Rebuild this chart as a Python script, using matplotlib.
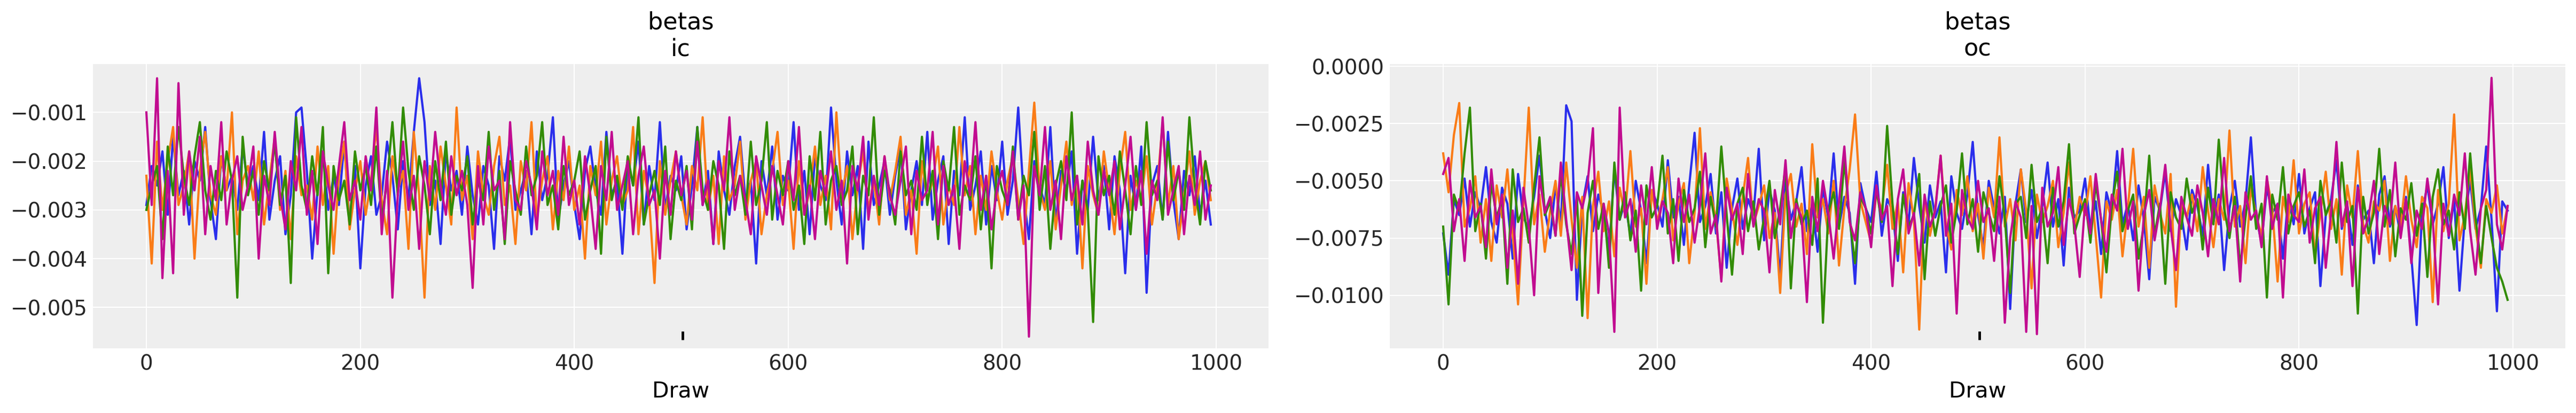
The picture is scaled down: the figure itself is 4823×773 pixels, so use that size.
import numpy as np
import matplotlib
matplotlib.use("Agg")
import matplotlib.pyplot as plt

# chain colours (arviz-darkgrid cycle)
chain_colors = ["#2a2eec", "#fa7c17", "#328c06", "#c10c90"]

# every 5th draw, values in units of 1e-4
draw_step = 5
divergence_draws = [501]

ic_chain0 = [
    -29, -21, -25, -18, -31, -15, -27, -22, -33, -20, -24, -13, -28, -36, -19, -26, -23, -30, -17, -25,
    -21, -28, -14, -32, -24, -19, -35, -27, -10, -9, -22, -40, -26, -18, -30, -23, -29, -16, -33, -21,
    -42, -25, -19, -31, -27, -16, -23, -34, -20, -28, -14, -3, -12, -29, -24, -37, -18, -26, -22, -31,
    -17, -27, -33, -21, -25, -38, -19, -24, -15, -30, -26, -22, -35, -18, -28, -23, -11, -32, -25, -20,
    -29, -36, -22, -17, -26, -31, -14, -27, -24, -39, -20, -25, -16, -33, -21, -28, -12, -30, -23, -26,
    -19, -34, -25, -13, -29, -22, -37, -18, -26, -31, -21, -15, -28, -24, -41, -20, -27, -17, -32, -23,
    -26, -12, -30, -22, -35, -19, -25, -28, -9, -24, -33, -18, -27, -21, -38, -16, -29, -25, -20, -31,
    -23, -17, -34, -26, -20, -29, -14, -32, -24, -19, -37, -22, -27, -11, -30, -25, -18, -33, -21, -28,
    -16, -31, -24, -9, -27, -36, -20, -25, -29, -13, -33, -22, -26, -18, -39, -24, -30, -15, -28, -21,
    -34, -19, -26, -43, -23, -30, -17, -47, -25, -21, -32, -14, -28, -36, -22, -27, -19, -31, -24, -33,
]
ic_chain1 = [
    -23, -41, -16, -30, -20, -13, -29, -25, -18, -40, -22, -14, -27, -31, -19, -26, -10, -35, -24, -21,
    -28, -18, -33, -24, -15, -30, -22, -36, -19, -27, -25, -32, -17, -29, -21, -39, -23, -16, -34, -26,
    -20, -31, -24, -13, -28, -35, -19, -26, -22, -38, -14, -27, -48, -21, -30, -17, -25, -33, -9, -28,
    -23, -36, -18, -27, -31, -21, -15, -29, -25, -37, -20, -26, -12, -32, -24, -19, -34, -22, -28, -17,
    -30, -25, -40, -21, -27, -16, -33, -24, -19, -29, -26, -13, -35, -22, -28, -45, -20, -31, -24, -18,
    -27, -33, -21, -26, -11, -30, -23, -37, -19, -28, -25, -16, -32, -24, -20, -35, -27, -22, -14, -29,
    -24, -38, -20, -31, -26, -17, -29, -23, -34, -10, -27, -21, -36, -25, -18, -30, -24, -33, -19, -28,
    -22, -15, -31, -26, -39, -20, -28, -24, -17, -33, -25, -29, -13, -27, -21, -35, -23, -30, -18, -26,
    -32, -24, -19, -28, -37, -22, -8, -26, -30, -20, -34, -25, -16, -29, -23, -42, -21, -27, -31, -18,
    -26, -35, -22, -14, -30, -24, -28, -19, -33, -25, -12, -29, -21, -36, -27, -18, -31, -24, -20, -28,
]
ic_chain2 = [
    -30, -25, -21, -36, -17, -27, -13, -23, -29, -19, -12, -26, -32, -22, -28, -18, -24, -48, -15, -27,
    -22, -31, -20, -26, -16, -29, -23, -45, -11, -25, -30, -19, -27, -13, -43, -21, -28, -24, -33, -18,
    -26, -21, -29, -17, -32, -24, -12, -27, -9, -22, -30, -19, -25, -35, -20, -28, -16, -31, -23, -26,
    -19, -33, -24, -28, -14, -30, -22, -37, -20, -26, -31, -17, -27, -23, -12, -29, -25, -34, -21, -27,
    -24, -18, -32, -26, -21, -39, -15, -28, -23, -30, -19, -25, -11, -33, -27, -22, -29, -17, -36, -24,
    -28, -21, -34, -13, -26, -30, -20, -25, -38, -18, -27, -23, -31, -16, -29, -24, -12, -32, -22, -27,
    -20, -30, -25, -37, -19, -28, -14, -33, -24, -21, -29, -26, -17, -35, -23, -27, -11, -31, -22, -26,
    -33, -18, -27, -24, -30, -15, -29, -22, -36, -20, -26, -13, -31, -25, -28, -19, -34, -23, -42, -21,
    -26, -29, -17, -32, -23, -27, -14, -30, -21, -38, -25, -20, -28, -10, -33, -24, -30, -53, -19, -27,
    -23, -31, -18, -26, -35, -21, -29, -12, -27, -24, -32, -16, -28, -22, -30, -11, -25, -33, -20, -26,
]
ic_chain3 = [
    -10, -29, -3, -44, -22, -43, -4, -31, -18, -26, -15, -35, -21, -28, -12, -33, -24, -19, -30, -25,
    -17, -40, -23, -29, -14, -27, -34, -20, -26, -13, -31, -22, -37, -18, -25, -30, -21, -12, -28, -24,
    -32, -19, -26, -9, -35, -22, -48, -27, -16, -30, -23, -38, -20, -28, -14, -25, -31, -19, -27, -22,
    -29, -46, -21, -33, -17, -26, -24, -36, -12, -28, -30, -20, -25, -34, -18, -27, -22, -31, -15, -29,
    -24, -33, -19, -27, -38, -21, -28, -14, -30, -25, -20, -35, -23, -17, -29, -26, -40, -22, -31, -18,
    -27, -22, -32, -16, -29, -24, -37, -20, -26, -11, -30, -23, -28, -35, -19, -25, -31, -21, -27, -33,
    -20, -28, -13, -31, -25, -36, -22, -27, -18, -30, -24, -41, -21, -26, -15, -32, -23, -29, -19, -27,
    -31, -24, -17, -35, -22, -28, -26, -14, -33, -21, -29, -25, -38, -20, -27, -12, -30, -23, -34, -26,
    -22, -29, -18, -32, -25, -56, -21, -27, -13, -30, -24, -36, -19, -28, -23, -33, -16, -26, -31, -22,
    -27, -20, -34, -25, -15, -30, -22, -39, -24, -28, -11, -31, -26, -21, -35, -23, -29, -18, -32, -25,
]

oc_chain0 = [
    -73, -91, -58, -65, -49, -70, -55, -62, -44, -68, -77, -53, -60, -84, -47, -66, -71, -57, -39, -63,
    -75, -52, -69, -17, -24, -102, -61, -48, -72, -56, -64, -81, -45, -67, -59, -74, -50, -63, -86, -54,
    -60, -70, -41, -66, -57, -78, -52, -29, -68, -61, -47, -73, -55, -88, -62, -49, -71, -58, -65, -36,
    -76, -54, -63, -92, -50, -67, -59, -44, -72, -60, -81, -53, -66, -38, -70, -57, -64, -95, -51, -62,
    -68, -46, -74, -58, -63, -85, -55, -69, -40, -61, -77, -52, -66, -59, -90, -48, -64, -71, -56, -33,
    -65, -79, -50, -62, -73, -57, -106, -60, -45, -68, -54, -75, -61, -42, -70, -58, -87, -53, -66, -63,
    -49, -71, -59, -82, -55, -64, -37, -69, -60, -76, -52, -67, -93, -57, -63, -46, -72, -58, -65, -80,
    -54, -61, -74, -43, -68, -56, -89, -62, -50, -70, -59, -31, -66, -77, -53, -64, -60, -84, -57, -69,
    -47, -73, -62, -55, -96, -65, -58, -41, -71, -60, -78, -52, -67, -63, -86, -56, -48, -70, -61, -74,
    -57, -83, -113, -64, -52, -69, -60, -44, -75, -58, -98, -66, -50, -71, -62, -35, -67, -107, -59, -63,
]
oc_chain1 = [
    -38, -55, -30, -16, -70, -62, -48, -77, -58, -85, -52, -66, -45, -73, -104, -60, -18, -69, -56, -81,
    -63, -50, -74, -42, -67, -88, -57, -110, -61, -46, -72, -59, -83, -53, -65, -37, -70, -62, -95, -54,
    -68, -58, -44, -76, -60, -51, -86, -64, -27, -71, -55, -67, -93, -49, -63, -78, -57, -40, -69, -61,
    -52, -75, -64, -99, -56, -47, -70, -60, -82, -34, -66, -58, -73, -50, -87, -62, -45, -21, -59, -68,
    -77, -55, -63, -43, -71, -59, -90, -51, -67, -115, -57, -74, -62, -39, -69, -80, -54, -65, -48, -72,
    -60, -84, -53, -66, -31, -70, -58, -76, -45, -63, -97, -56, -68, -61, -50, -79, -64, -42, -71, -57,
    -65, -48, -74, -101, -59, -67, -54, -83, -62, -36, -70, -57, -88, -52, -64, -73, -47, -105, -60, -66,
    -56, -72, -44, -63, -79, -58, -67, -28, -70, -61, -86, -53, -65, -74, -49, -62, -94, -57, -68, -41,
    -73, -60, -55, -82, -64, -46, -71, -58, -91, -52, -66, -37, -69, -77, -59, -63, -50, -85, -61, -70,
    -48, -67, -79, -57, -62, -103, -54, -72, -60, -21, -76, -65, -45, -70, -88, -58, -64, -52, -73, -61,
]
oc_chain2 = [
    -70, -104, -56, -63, -38, -18, -72, -60, -84, -51, -66, -58, -95, -45, -68, -62, -77, -53, -31, -65,
    -59, -74, -47, -69, -82, -57, -109, -64, -50, -71, -60, -88, -42, -67, -55, -76, -63, -98, -52, -66,
    -61, -39, -73, -58, -85, -54, -68, -62, -46, -79, -57, -70, -35, -65, -91, -60, -53, -72, -59, -80,
    -66, -50, -75, -62, -44, -97, -58, -69, -63, -78, -49, -112, -64, -55, -71, -41, -67, -86, -57, -62,
    -73, -54, -68, -26, -60, -82, -56, -70, -65, -47, -93, -59, -74, -61, -52, -77, -63, -38, -69, -58,
    -81, -55, -64, -72, -48, -66, -99, -60, -57, -75, -43, -68, -62, -86, -53, -70, -59, -34, -73, -65,
    -58, -77, -51, -67, -90, -61, -46, -72, -63, -56, -84, -69, -39, -74, -60, -95, -55, -66, -71, -49,
    -64, -58, -80, -53, -69, -32, -62, -75, -57, -88, -66, -48, -71, -60, -101, -56, -67, -44, -73, -61,
    -55, -70, -63, -86, -50, -65, -59, -77, -42, -68, -61, -108, -57, -73, -64, -36, -70, -54, -83, -62,
    -67, -51, -74, -60, -92, -57, -45, -69, -63, -80, -55, -71, -38, -66, -86, -61, -75, -88, -94, -102,
]
oc_chain3 = [
    -47, -40, -72, -58, -85, -50, -66, -61, -79, -45, -69, -56, -88, -63, -95, -53, -70, -100, -48, -64,
    -57, -74, -42, -67, -89, -55, -62, -51, -27, -99, -60, -73, -116, -18, -66, -58, -81, -52, -69, -44,
    -71, -59, -64, -86, -49, -68, -56, -77, -61, -38, -73, -65, -94, -53, -67, -60, -82, -47, -70, -58,
    -63, -90, -54, -69, -41, -75, -60, -66, -103, -57, -72, -50, -64, -84, -59, -35, -68, -76, -55, -62,
    -79, -52, -67, -61, -96, -58, -45, -73, -64, -87, -56, -70, -63, -39, -74, -60, -108, -54, -66, -71,
    -50, -68, -62, -85, -57, -112, -75, -59, -66, -116, -61, -117, -53, -70, -64, -44, -78, -58, -69, -92,
    -60, -73, -47, -67, -81, -56, -63, -36, -71, -59, -98, -65, -54, -76, -62, -43, -70, -89, -57, -66,
    -74, -52, -64, -83, -58, -69, -40, -72, -61, -94, -55, -67, -63, -79, -48, -71, -60, -101, -56, -65,
    -68, -45, -77, -62, -57, -88, -64, -33, -70, -59, -96, -53, -73, -66, -50, -82, -61, -69, -42, -75,
    -58, -86, -63, -71, -49, -67, -104, -60, -74, -56, -65, -38, -72, -91, -62, -54, -5, -69, -80, -61,
]

panels = [
    ("betas\nic", [ic_chain0, ic_chain1, ic_chain2, ic_chain3], (-0.00584, -0.00001),
     [-0.005, -0.004, -0.003, -0.002, -0.001], None),
    ("betas\noc", [oc_chain0, oc_chain1, oc_chain2, oc_chain3], (-0.01232, 0.0001),
     [-0.01, -0.0075, -0.005, -0.0025, 0.0],
     ["\u22120.0100", "\u22120.0075", "\u22120.0050", "\u22120.0025", "0.0000"]),
]

fig = plt.figure(figsize=(48.23, 7.73), dpi=100)
W, H = 4823, 773
axes_px = [(174, 2375), (2602, 4803)]
top_px, bot_px = 120, 652

for (title, chains, ylim, yticks, ylabels), (x0, x1) in zip(panels, axes_px):
    ax = fig.add_axes([x0 / W, (H - bot_px) / H, (x1 - x0) / W, (bot_px - top_px) / H])
    ax.set_facecolor("#eeeeee")
    for s in ax.spines.values():
        s.set_visible(False)
    ax.grid(True, color="white", linewidth=1.5)
    ax.set_axisbelow(True)

    for vals, col in zip(chains, chain_colors):
        draws = np.arange(len(vals)) * draw_step
        ax.plot(draws, np.array(vals) * 1e-4, color=col, linewidth=3)

    # divergence rug near the bottom
    ax.plot(divergence_draws, [0.045] * len(divergence_draws), transform=ax.get_xaxis_transform(),
            linestyle="none", marker="|", markersize=11.5, markeredgewidth=3.5, color="black")

    ax.set_xlim(-49.95, 1048.95)
    ax.set_ylim(*ylim)
    ax.set_xticks([0, 200, 400, 600, 800, 1000])
    ax.set_yticks(yticks)
    if ylabels is not None:
        ax.set_yticklabels(ylabels)
    ax.tick_params(axis="both", length=0, labelsize=28, labelcolor="#262626")
    ax.tick_params(axis="x", pad=7.5)
    ax.tick_params(axis="y", pad=7.4)
    ax.set_xlabel("Draw", fontsize=29.5, color="black", labelpad=8.6)
    ax.set_title(title, fontsize=32, color="black", pad=11.3)

fig.savefig("out.png", dpi=100)
